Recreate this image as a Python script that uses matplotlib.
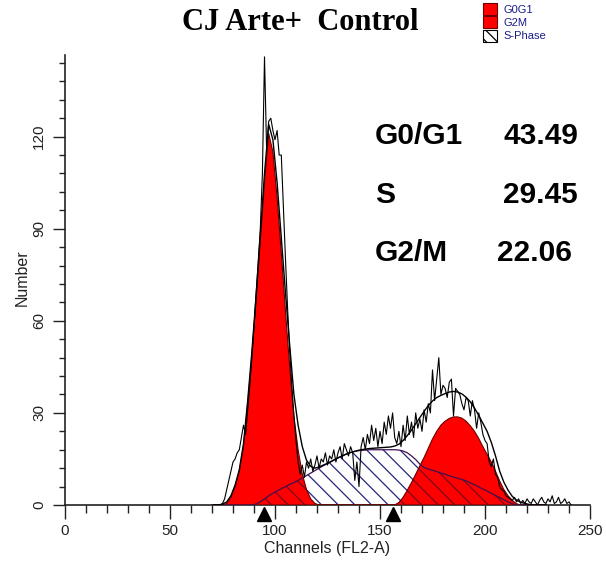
import numpy as np
import matplotlib
matplotlib.use('Agg')
import matplotlib.pyplot as plt
import matplotlib.transforms as mtransforms
from matplotlib.patches import Patch
from matplotlib.ticker import MultipleLocator

# raw histogram, one value per channel, channels 70..241
raw_channels = list(range(70, 242))
raw_counts = [
    0, 0, 0, 0, 0, 0.5, 2, 5, 8, 11,               # 70-79
    14, 15, 17, 18, 22, 26, 23, 31, 39, 48,        # 80-89
    58, 69, 79, 90, 108, 146, 116, 125, 126, 122,  # 90-99
    119, 122, 114, 114, 97, 80, 64, 50, 39, 29,    # 100-109
    21, 14, 10, 13, 9, 14, 12, 15, 11, 13,         # 110-119
    16, 12, 15, 14, 17, 13, 16, 15, 18, 14,        # 120-129
    17, 19, 15, 20, 18, 16, 19, 17, 8, 14,         # 130-139
    6, 19, 22, 18, 23, 20, 26, 21, 25, 19,         # 140-149
    24, 20, 27, 23, 29, 25, 30, 22, 20, 24,        # 150-159
    19, 26, 21, 29, 23, 27, 22, 30, 25, 28,        # 160-169
    24, 31, 27, 33, 30, 44, 34, 41, 48, 36,        # 170-179
    39, 38, 35, 40, 41, 29, 38, 37, 36, 33,        # 180-189
    31, 35, 34, 29, 34, 31, 25, 30, 27, 23,        # 190-199
    21, 20, 14, 12.5, 15, 10, 9, 6, 5, 4.5,        # 200-209
    3, 2.5, 2, 1.5, 2.5, 1, 2, 0.5, 1.5, 0.5,      # 210-219
    2, 1, 0.5, 2, 1, 0, 1.5, 2.5, 1, 0.5,          # 220-229
    2, 1, 3, 0.5, 1, 2.5, 0.5, 1, 2, 0.5,          # 230-239
    1, 0,                                          # 240-241
]

# model curves, channels 71, 73, ..., 229
fit_channels = list(range(71, 231, 2))
g0g1 = [
    0, 0, 0, 0.5, 2.5, 6, 11, 19, 33, 49,
    67, 86, 105, 121, 115, 100, 82, 63, 45, 29,
    18, 10, 5, 2, 0.5,
] + [0] * 55
s_phase = [0] * 10 + [
    0.3, 1, 2, 3, 3.8, 4.6, 5.3, 6, 6.7, 7.3,
    8, 8.8, 9.6, 10.4, 11.2, 12, 12.8, 13.5, 14.2, 15,
    15.7, 16.3, 16.9, 17.3, 17.6, 17.8, 17.9, 18, 18, 18,
    18, 18, 18, 18, 17.9, 17.6, 17, 16, 14.8, 13.3,
    12.2, 11.7, 11.3, 10.9, 10.4, 10, 9.5, 9.1, 8.7, 8.3,
    7.9, 7.2, 6.6, 5.9, 5.2, 4.5, 3.8, 3.1, 2.4, 1.7,
    1.0, 0.4, 0,
] + [0] * 7
g2m = [0] * 42 + [
    0, 0, 0.8, 2.5, 4.8, 7.3, 10, 12.8, 15.5, 18.5,
    21.5, 24, 26, 27.3, 28.2, 28.7, 28.7, 28.3, 27.3, 25.8,
    24, 21.7, 19, 16.5, 14, 11, 7.8, 5, 3, 1.5,
    0.4, 0,
] + [0] * 6
fit_total = [
    0, 0, 0.3, 1, 3, 6.5, 11.5, 20, 34, 50,
    68, 88, 108, 124, 119, 105, 87, 69, 52, 36,
    26, 19, 14.6, 12.6, 12, 12.4, 13, 13.6, 14.3, 15,
    15.7, 16.3, 16.9, 17.3, 17.7, 18, 18.2, 18.4, 18.5, 18.6,
    18.7, 18.8, 18.9, 19.2, 19.8, 21, 22.6, 24.4, 26.5, 28.5,
    30.5, 32.4, 33.9, 35, 35.7, 36.3, 36.8, 37, 36.8, 36.2,
    35.1, 33.6, 31.6, 29.2, 26.6, 24, 20.4, 16, 11, 7.4,
    4.8, 2.8, 1.6, 0.9, 0.5, 0.2, 0, 0, 0, 0,
]

marker_channels = [94.7, 156.3]
phase_names = ['G0/G1', 'S', 'G2/M']
phase_pct = ['43.49', '29.45', '22.06']
legend_labels = ['G0G1', 'G2M', 'S-Phase']

plt.rcParams['font.family'] = ['Liberation Sans', 'DejaVu Sans']
plt.rcParams['hatch.linewidth'] = 0.9

W, H = 606, 562
fig = plt.figure(figsize=(W / 100, H / 100), dpi=100)
ax = fig.add_axes([65 / W, 1 - 505 / H, 525 / W, 450 / H])

ch = np.array(fit_channels)
g1 = np.array(g0g1)
s = np.array(s_phase)
g2 = np.array(g2m)
red = '#ff0000'

# S-phase hatched on white
ax.fill_between(ch, 0, s, facecolor='white', edgecolor='#25257f', hatch='\\\\',
                linewidth=0, zorder=2)
# G0G1 and G2M peaks
ax.fill_between(ch, 0, g1, facecolor=red, edgecolor='none', zorder=3)
ax.fill_between(ch, 0, g2, facecolor=red, edgecolor='none', zorder=3)
# S-phase where it lies under the red peaks
ax.fill_between(ch, 0, np.minimum(s, g1), facecolor=red, edgecolor='#7a0a20',
                hatch='\\\\', linewidth=0, zorder=4)
ax.fill_between(ch, 0, np.minimum(s, g2), facecolor=red, edgecolor='#7a0a20',
                hatch='\\\\', linewidth=0, zorder=4)
ax.plot(ch, g1, color='#6a0000', lw=0.8, zorder=5)
ax.plot(ch, g2, color='#6a0000', lw=0.8, zorder=5)
ax.plot(ch, s, color='#401050', lw=0.9, zorder=5)
ax.plot(ch, fit_total, color='black', lw=1.0, zorder=6)
ax.plot(raw_channels, raw_counts, color='black', lw=0.8, zorder=7)

trans = mtransforms.blended_transform_factory(ax.transData, ax.transAxes)
ax.plot(marker_channels, [-0.019] * len(marker_channels), transform=trans,
        marker='^', ms=9.5, color='black', ls='none', clip_on=False, zorder=8)

ax.set_xlim(0, 250)
ax.set_ylim(0, 146.6)
ax.spines['top'].set_visible(False)
ax.spines['right'].set_visible(False)
for sp in ('left', 'bottom'):
    ax.spines[sp].set_color('#222222')
    ax.spines[sp].set_linewidth(1.2)

ax.set_xticks(range(0, 251, 50))
ax.xaxis.set_minor_locator(MultipleLocator(10))
ax.set_yticks([0, 30, 60, 90, 120])
ax.yaxis.set_minor_locator(MultipleLocator(6))
ax.tick_params(axis='x', which='major', length=10, width=1, pad=4,
               labelsize=11, labelcolor='#222222', color='#222222')
ax.tick_params(axis='x', which='minor', length=6, width=1, color='#222222')
ax.tick_params(axis='y', which='major', length=8.5, width=1, pad=5,
               labelsize=11, labelcolor='#222222', color='#222222',
               labelrotation=90)
ax.tick_params(axis='y', which='minor', length=4.3, width=1, color='#222222')
for lab in ax.get_yticklabels():
    lab.set_va('center')

ax.set_xlabel('Channels (FL2-A)', fontsize=11.5, color='#222222')
ax.xaxis.set_label_coords(0.5, -0.08)
ax.set_ylabel('Number', fontsize=11.5, color='#222222')
ax.yaxis.set_label_coords(-0.068, 0.505)

fig.text(300 / W, 1 - 23 / H, 'CJ Arte+  Control', ha='center', va='center',
         fontsize=22, fontweight='bold', family='Liberation Serif')

baselines = [144.5, 203, 261]
num_x = [503, 503, 497]
for name, pct, yb, nx in zip(phase_names, phase_pct, baselines, num_x):
    fig.text(375 / W, 1 - yb / H, name, ha='left', va='baseline',
             fontsize=21.5, fontweight='bold')
    fig.text(nx / W, 1 - yb / H, pct, ha='left', va='baseline',
             fontsize=21.5, fontweight='bold')

handles = [Patch(facecolor=red, edgecolor='#700000', linewidth=0.8),
           Patch(facecolor=red, edgecolor='#700000', linewidth=0.8),
           Patch(facecolor='white', edgecolor='black', hatch='\\\\\\', linewidth=0.8)]
leg = fig.legend(handles, legend_labels, loc='upper left',
                 bbox_to_anchor=(483 / W, 1 - 3 / H), frameon=False, fontsize=8,
                 handlelength=1.3, handleheight=1.25, handletextpad=0.55,
                 labelspacing=0.15, borderpad=0, borderaxespad=0)
for t in leg.get_texts():
    t.set_color('#1c1c8c')

fig.savefig('out.png', dpi=100)
